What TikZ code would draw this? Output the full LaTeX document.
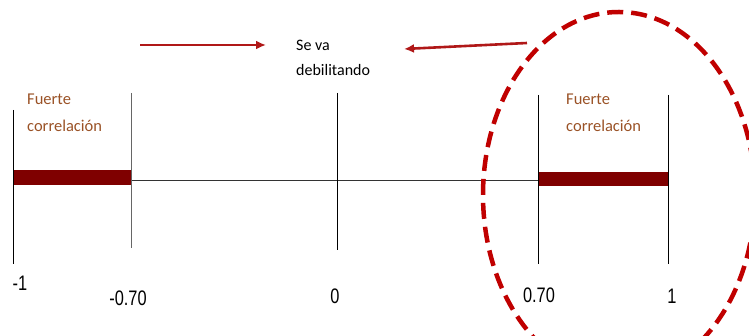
\documentclass[tikz,border=0pt]{standalone}
\usepackage{fontspec}
\usetikzlibrary{arrows.meta}
\setmainfont{Carlito}
\newfontfamily\labfont{Liberation Sans}
\definecolor{barred}{HTML}{7F0000}
\definecolor{arrred}{HTML}{B01818}
\definecolor{ellred}{HTML}{C00000}
\definecolor{brownt}{HTML}{9A5226}
\begin{document}
\begin{tikzpicture}[x=1pt,y=-1pt,
  tick/.style={line width=0.9pt},
  bar/.style={fill=barred,draw=none},
  strong/.style={text=brownt,font=\fontsize{16.5}{27}\selectfont,align=left,anchor=north west,inner sep=0pt},
  numlab/.style={font=\labfont\fontsize{21}{22}\selectfont,inner sep=0pt,xscale=0.78},
  redarrow/.style={draw=arrred,line width=2.6pt,-{Latex[length=10pt,width=9pt]}}]
\useasboundingbox (0,0) rectangle (749,336);
\begin{scope}
\clip (0,0) rectangle (749,336);
% thin axis
\draw[line width=0.8pt,black!80] (131,180) -- (538,180);
% bars
\fill[bar] (13,170) rectangle (131,185);
\fill[bar] (538,172) rectangle (668,186);
% ticks
\draw[tick] (13,110) -- (13,264);
\draw[tick,black!60] (131,93) -- (131,248);
\draw[tick] (337,93) -- (337,250);
\draw[tick] (538,95) -- (538,264);
\draw[tick] (668,95) -- (668,264);
% texts
\node[strong] (fl) at (27,94) {Fuerte\\correlación};
\node[strong] (fr) at (566,94) {Fuerte\\correlación};
\node[font=\fontsize{16}{25}\selectfont,align=left,anchor=north west,inner sep=0pt] (deb) at (296,40) {Se va\\debilitando};
% arrows
\coordinate (a1s) at (140,45);
\coordinate (a1e) at (266,45);
\coordinate (a2s) at (527,43);
\coordinate (a2e) at (404,49);
\draw[redarrow] (a1s) -- (a1e);
\draw[redarrow] (a2s) -- (a2e);
% labels
\node[numlab] (l1) at (20,283) {-1};
\node[numlab] (l2) at (128,298) {-0.70};
\node[numlab] (l3) at (335,296) {0};
\node[numlab] (l4) at (539,295) {0.70};
\node[numlab] (l5) at (672,296) {1};
% dashed ellipse
\draw[ellred,line width=4.5pt,dash pattern=on 16pt off 8pt] (619,195) ellipse [x radius=136, y radius=183];
\end{scope}
\end{tikzpicture}
\end{document}
